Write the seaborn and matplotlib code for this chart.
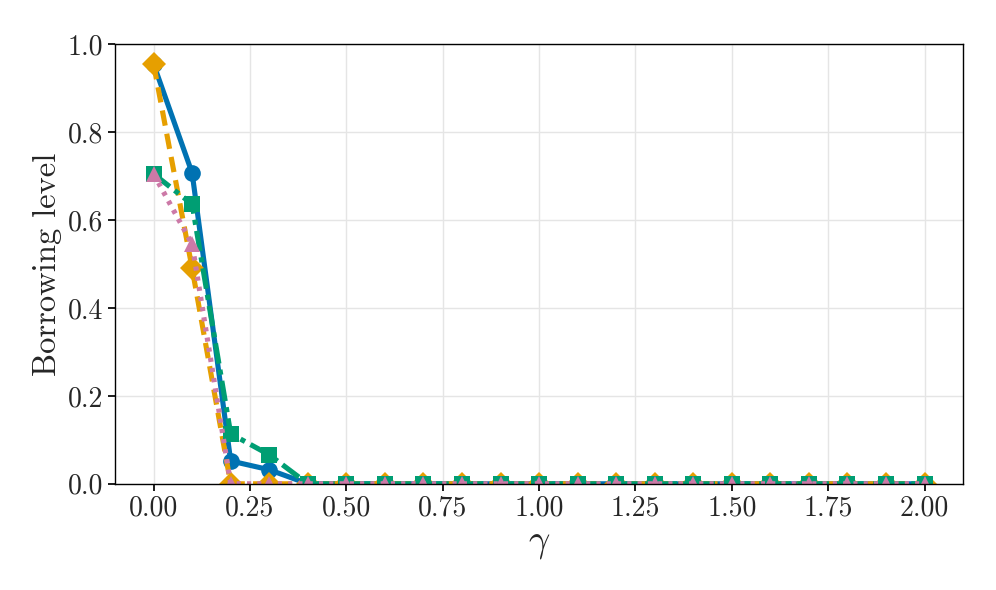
import numpy as np
import pandas as pd
import seaborn as sns
import matplotlib.pyplot as plt

gamma = [round(0.1 * i, 1) for i in range(21)]
blue_vals = [0.955, 0.707, 0.052, 0.032] + [0.0] * 17
orange_vals = [0.955, 0.49, 0.0, 0.0] + [0.0] * 17
green_vals = [0.705, 0.636, 0.114, 0.066] + [0.0] * 17
pink_vals = [0.705, 0.545, 0.0, 0.0] + [0.0] * 17

sns.set_theme(style="whitegrid")
plt.rcParams["font.family"] = "serif"
plt.rcParams["font.serif"] = ["cmr10"]
plt.rcParams["mathtext.fontset"] = "cm"
plt.rcParams["axes.formatter.use_mathtext"] = True

# Okabe-Ito colours
blue, orange, green, pink = "#0072B2", "#E69F00", "#009E73", "#CC79A7"

fig, ax = plt.subplots(figsize=(9.96, 5.9), dpi=100)
fig.subplots_adjust(left=0.1155, right=0.967, top=0.925, bottom=0.18)

series = [
    (blue_vals, blue, "o", "-", 12),
    (orange_vals, orange, "D", (0, (3, 1.6)), 12),
    (green_vals, green, "s", (0, (4, 1.2, 1, 1.2)), 11),
    (pink_vals, pink, "^", (0, (0.8, 1.2)), 11),
]
for vals, col, mk, ls, ms in series:
    sns.lineplot(x=gamma, y=vals, ax=ax, color=col, marker=mk, linestyle=ls,
                 linewidth=3.7, markersize=ms, markeredgewidth=0)

ax.set_xlim(-0.1, 2.1)
ax.set_ylim(0, 1)
ax.set_xticks(np.arange(0, 2.01, 0.25))
ax.set_xticklabels([f"{t:.2f}" for t in np.arange(0, 2.01, 0.25)])
ax.set_yticks(np.arange(0, 1.01, 0.2))
ax.set_yticklabels([f"{t:.1f}" for t in np.arange(0, 1.01, 0.2)])
ax.tick_params(labelsize=20, length=5, color="black", left=True, bottom=True)
ax.set_xlabel(r"$\gamma$", fontsize=27)
ax.set_ylabel("Borrowing level", fontsize=23.5)
ax.grid(color="#e5e5e5", linewidth=1)
for s in ax.spines.values():
    s.set_color("black")
    s.set_linewidth(1)

fig.savefig("out.png", dpi=100)
